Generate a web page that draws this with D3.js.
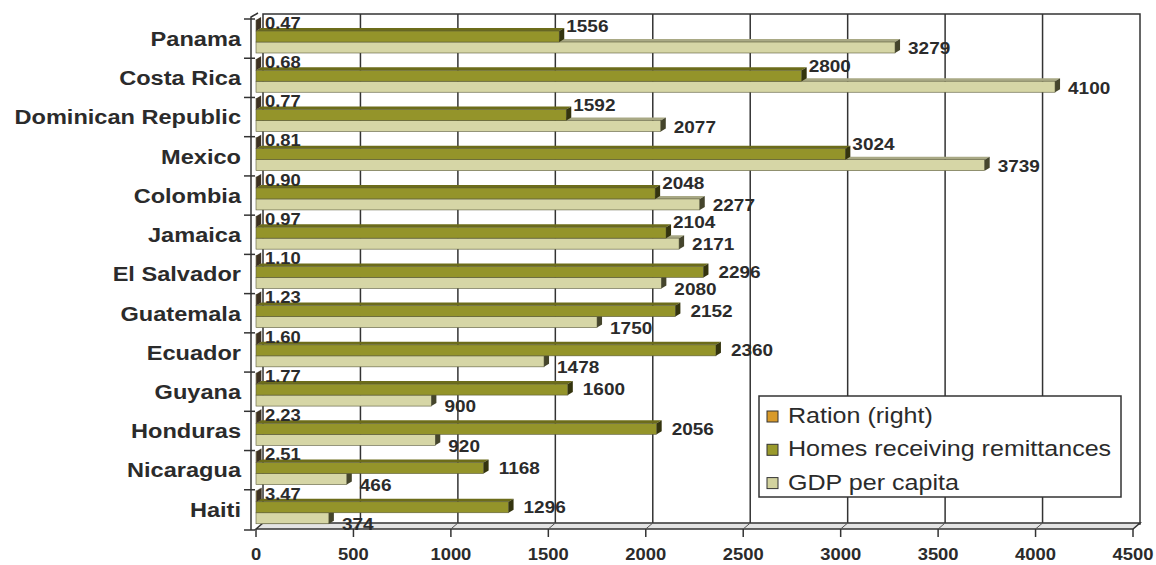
<!DOCTYPE html>
<html><head><meta charset="utf-8">
<script src="https://cdn.jsdelivr.net/npm/d3@7"></script>
<style>body{margin:0;background:#fff}svg{display:block}</style>
</head><body>
<svg id="c" width="1156" height="565"></svg>
<script>
const categories = ["Panama","Costa Rica","Dominican Republic","Mexico","Colombia","Jamaica","El Salvador","Guatemala","Ecuador","Guyana","Honduras","Nicaragua","Haiti"];
const ratio = [0.47,0.68,0.77,0.81,0.90,0.97,1.10,1.23,1.60,1.77,2.23,2.51,3.47];
const homes = [1556,2800,1592,3024,2048,2104,2296,2152,2360,1600,2056,1168,1296];
const gdp = [3279,4100,2077,3739,2277,2171,2080,1750,1478,900,920,466,374];
const xTicks = [0,500,1000,1500,2000,2500,3000,3500,4000,4500];
const seriesNames = ["Ration (right)","Homes receiving remittances","GDP per capita"];
const seriesKeys = ["ratio","homes","gdp"];

const svg = d3.select("#c");
const SX = 1.15;
const ink = "#2b2b2b";
const font = "'Liberation Sans', Arial, sans-serif";

const x = d3.scaleLinear().domain([0,4500]).range([256,1133]);
const y = d3.scaleBand().domain(categories).range([19,529]).padding(0);
const sub = d3.scaleBand().domain(seriesKeys).range([1, 34]).padding(0);
const DX = 7, DY = 6;     // wall depth
const bdx = 5, bdy = 3;   // bar depth

const colors = {
  ratio: {front:"#b07a20", top:"#8e8e8e", cap:"#3e3222", swatch:"#d89a2a"},
  homes: {front:"#94942a", top:"#6c6c1a", cap:"#34340e", swatch:"#9a9a2c"},
  gdp:   {front:"#d6d6a6", top:"#a9a985", cap:"#45452c", swatch:"#d2d29e"}
};

function txt(g, px, py, s, size, weight, anchor){
  return g.append("text")
    .attr("transform", `translate(${px},${py}) scale(${SX},1)`)
    .attr("text-anchor", anchor||"start")
    .attr("font-family", font).attr("font-size", size)
    .attr("font-weight", weight||"normal")
    .attr("fill", ink).text(s);
}

const x0 = x(0), x1 = x(4500), yTop = y.range()[0], yBot = y.range()[1];
// back wall
svg.append("rect").attr("x", x0+DX).attr("y", yTop-DY+1).attr("width", x1-x0).attr("height", yBot-yTop)
  .attr("fill","#fff").attr("stroke", "#333").attr("stroke-width",1.5);
svg.selectAll(".grid").data(xTicks.slice(1,-1)).join("line")
  .attr("x1", d=>x(d)+DX).attr("x2", d=>x(d)+DX)
  .attr("y1", yTop-DY+1).attr("y2", yBot-DY)
  .attr("stroke","#333").attr("stroke-width",1.5);
// floor
svg.append("path")
  .attr("d", `M${x0},${yBot} L${x1},${yBot} L${x1+DX},${yBot-DY} L${x0+DX},${yBot-DY} Z`)
  .attr("fill","#e4e4e4").attr("stroke","#333").attr("stroke-width",1.5);
svg.selectAll(".fd").data(xTicks.slice(1,-1)).join("line")
  .attr("x1", d=>x(d)).attr("x2", d=>x(d)+DX).attr("y1", yBot).attr("y2", yBot-DY)
  .attr("stroke","#555").attr("stroke-width",1);
// left wall / axis
svg.append("path")
  .attr("d", `M${x0-5},${yBot+1} L${x0-5},${yTop-2} L${x0+DX-5},${yTop-DY}`)
  .attr("fill","none").attr("stroke","#333").attr("stroke-width",1.5);
const tickYs = categories.map(c=>y(c)).concat([yBot+1]);
svg.selectAll(".ct").data(tickYs).join("line")
  .attr("x1", x0-12).attr("x2", x0-1).attr("y1", d=>d).attr("y2", d=>d)
  .attr("stroke","#333").attr("stroke-width",1.5);
// x ticks
svg.selectAll(".xt").data(xTicks).join("line")
  .attr("x1", d=>x(d)).attr("x2", d=>x(d)).attr("y1", yBot).attr("y2", yBot+8)
  .attr("stroke","#333").attr("stroke-width",1.5);
xTicks.forEach(v => txt(svg, x(v), 560, String(v), 16, "bold", "middle"));

// bars
function box(g, xa, xb, yt, yb, c){
  g.append("path").attr("d", `M${xa},${yt} L${xa+bdx},${yt-bdy} L${xb+bdx},${yt-bdy} L${xb},${yt} Z`).attr("fill", c.top);
  g.append("rect").attr("x", xa).attr("y", yt).attr("width", Math.max(0, xb-xa)).attr("height", yb-yt)
    .attr("fill", c.front).attr("stroke","#5a5a3a").attr("stroke-width",0.6);
  g.append("path").attr("d", `M${xb},${yt} L${xb+bdx},${yt-bdy} L${xb+bdx},${yb-bdy} L${xb},${yb} Z`).attr("fill", c.cap);
}
const barsG = svg.append("g");
categories.forEach((cat, i) => {
  const b = y(cat);
  const vals = {ratio: ratio[i], homes: homes[i], gdp: gdp[i]};
  ["gdp","homes","ratio"].forEach(k => {
    box(barsG, x(0), x(vals[k]), b+sub(k), b+sub(k)+sub.bandwidth(), colors[k]);
  });
});

// labels
const labG = svg.append("g");
const fmt2 = d3.format(".2f");
categories.forEach((cat, i) => {
  const b = y(cat);
  txt(labG, x0-15, b + y.bandwidth()/2 + 7.3, cat, 20.5, "bold", "end");
  txt(labG, x0+9, b + 4 + 5.8, fmt2(ratio[i]), 16, "bold", "start");
  const hc = b + sub("homes") + sub.bandwidth()/2;
  const gc = b + sub("gdp") + sub.bandwidth()/2;
  const homesAbove = gdp[i] > homes[i];
  txt(labG, x(homes[i]) + bdx + (homesAbove ? 2 : 10), hc + (homesAbove ? -10 : 0) + 5.8, String(homes[i]), 16.5, "bold");
  txt(labG, x(gdp[i]) + bdx + 8, gc + (homesAbove ? 1 : 6) + 5.8, String(gdp[i]), 16.5, "bold");
});

// legend
const lg = svg.append("g");
lg.append("rect").attr("x",759).attr("y",396).attr("width",362).attr("height",101)
  .attr("fill","#fff").attr("stroke","#333").attr("stroke-width",1.5);
seriesKeys.forEach((k, i) => {
  const by = 423 + i*33.3;
  lg.append("rect").attr("x",767).attr("y",by-12).attr("width",11).attr("height",11)
    .attr("fill", colors[k].swatch).attr("stroke","#333").attr("stroke-width",1);
  txt(lg, 788, by, seriesNames[i], 21.8, "normal", "start");
});
</script>
</body></html>
